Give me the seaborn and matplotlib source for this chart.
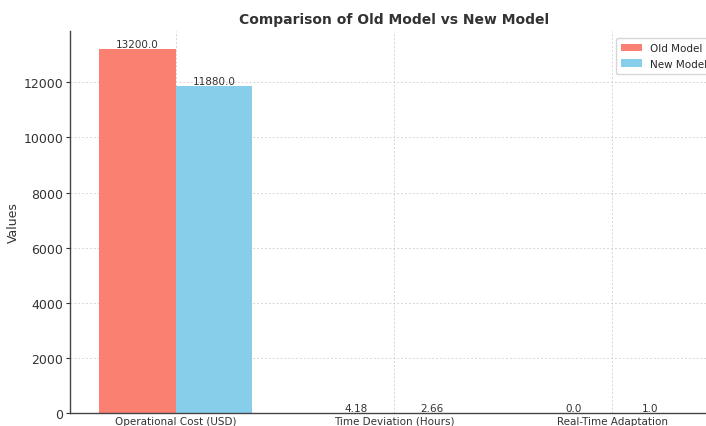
import matplotlib
matplotlib.use("Agg")
import matplotlib.pyplot as plt
import seaborn as sns
import pandas as pd

categories = ["Operational Cost (USD)", "Time Deviation (Hours)", "Real-Time Adaptation"]
old_model = [13200.0, 4.18, 0.0]
new_model = [11880.0, 2.66, 1.0]
series_names = ["Old Model", "New Model"]
colors = ["salmon", "skyblue"]

df = pd.DataFrame({
    "Metric": categories * 2,
    "Value": old_model + new_model,
    "Model": [series_names[0]] * 3 + [series_names[1]] * 3,
})

sns.set_style("white")
plt.rcParams["font.family"] = ["DejaVu Sans"]

fig = plt.figure(figsize=(7.06, 4.27), dpi=100)
ax = fig.add_axes([70/706, 13/427, 648/706, 382/427])

sns.barplot(data=df, x="Metric", y="Value", hue="Model", palette=colors,
            width=0.7, gap=0, saturation=1, ax=ax, errorbar=None, linewidth=0)

for cont, vals in zip(ax.containers, [old_model, new_model]):
    ax.bar_label(cont, labels=[str(v) for v in vals], fontsize=7.5, color="#333333", padding=0)

ax.set_xlim(-0.485, 2.485)
ax.set_ylim(0, 13860)
ax.set_xlabel("")
ax.set_ylabel("Values", fontsize=9, color="#333333", labelpad=2)
ax.set_title("Comparison of Old Model vs New Model", fontsize=10, fontweight="bold",
             color="#333333", pad=6)
ax.tick_params(axis="x", labelsize=7.5, length=0, pad=2, colors="#333333")
ax.tick_params(axis="y", labelsize=9, length=3, pad=2, colors="#333333", left=True)
ax.grid(True, linestyle=(0, (2, 2)), color="#d5d5d5", linewidth=0.7)
ax.set_axisbelow(True)
for s in ["top", "right"]:
    ax.spines[s].set_visible(False)
for s in ["left", "bottom"]:
    ax.spines[s].set_color("#444444")
    ax.spines[s].set_linewidth(1.0)

ax.legend(loc="upper right", fontsize=7.5, frameon=True, edgecolor="#cccccc",
          handlelength=2.0, borderpad=0.5, bbox_to_anchor=(1.0, 0.995))

fig.savefig("out.png", dpi=100)
